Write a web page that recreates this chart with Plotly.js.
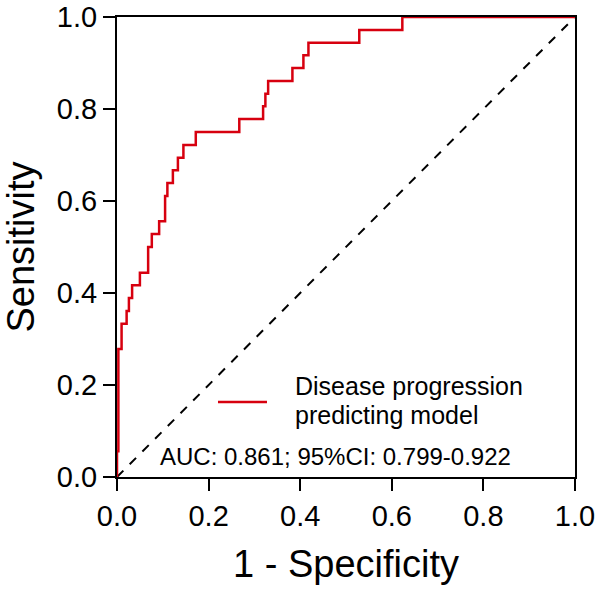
<!DOCTYPE html>
<html>
<head>
<meta charset="utf-8">
<script src="https://cdn.plot.ly/plotly-3.0.1.min.js"></script>
<style>html,body{margin:0;padding:0;background:#fff;}#chart{width:600px;height:591px;}</style>
</head>
<body>
<div id="chart"></div>
<script>
// ROC step points (1 - specificity, sensitivity)
const fpr = [0, 0, 0.003, 0.010, 0.021, 0.026, 0.033, 0.050, 0.068, 0.076, 0.092, 0.105, 0.110, 0.122, 0.133, 0.145, 0.172, 0.267, 0.319, 0.324, 0.330, 0.383, 0.407, 0.418, 0.529, 0.623, 1.0];
const tpr = [0, 0.056, 0.278, 0.333, 0.361, 0.389, 0.417, 0.444, 0.500, 0.528, 0.556, 0.611, 0.639, 0.667, 0.694, 0.722, 0.750, 0.778, 0.806, 0.833, 0.861, 0.889, 0.917, 0.944, 0.972, 1.0, 1.0];
const refX = [0, 1];
const refY = [0, 1];
const tickVals = [0, 0.2, 0.4, 0.6, 0.8, 1.0];
const tickText = ["0.0", "0.2", "0.4", "0.6", "0.8", "1.0"];
const seriesNameLines = ["Disease progression", "predicting model"];
const aucText = "AUC: 0.861; 95%CI: 0.799-0.922";

const FONT = "Liberation Sans, Arial, Helvetica, sans-serif";

const traces = [
  {x: refX, y: refY, mode: "lines", line: {color: "#000", width: 2, dash: "dash"}, showlegend: false, hoverinfo: "skip"},
  {x: fpr, y: tpr, mode: "lines", line: {color: "#d7000f", width: 2.5, shape: "hv"}, name: seriesNameLines.join(" "), showlegend: false}
];

const axisCommon = {
  range: [0, 1], tickvals: tickVals, ticktext: tickText,
  showgrid: false, zeroline: false,
  showline: true, linecolor: "#000", linewidth: 2, mirror: true,
  ticks: "outside", ticklen: 12, tickwidth: 2, tickcolor: "#000",
  tickfont: {family: FONT, size: 29, color: "#000"}, fixedrange: true
};

const layout = {
  width: 600, height: 591,
  margin: {l: 117, r: 25, t: 17, b: 114},
  paper_bgcolor: "#fff", plot_bgcolor: "#fff",
  font: {family: FONT, color: "#000"},
  xaxis: Object.assign({}, axisCommon, {title: {text: "1 - Specificity", font: {family: FONT, size: 38, color: "#000"}, standoff: 20}}),
  yaxis: Object.assign({}, axisCommon, {title: {text: "Sensitivity", font: {family: FONT, size: 38, color: "#000"}, standoff: 12}}),
  shapes: [
    {type: "line", xref: "paper", yref: "paper", x0: 0.2205, x1: 0.3275, y0: 0.163, y1: 0.163, line: {color: "#d7000f", width: 2.5}}
  ],
  annotations: [
    {xref: "paper", yref: "paper", x: 0.385, y: 0.197, xanchor: "left", yanchor: "middle", align: "left", showarrow: false,
     text: seriesNameLines[0], font: {family: FONT, size: 25, color: "#000"}},
    {xref: "paper", yref: "paper", x: 0.385, y: 0.135, xanchor: "left", yanchor: "middle", align: "left", showarrow: false,
     text: seriesNameLines[1], font: {family: FONT, size: 25, color: "#000"}},
    {xref: "paper", yref: "paper", x: 0.478, y: 0.045, xanchor: "center", yanchor: "middle", showarrow: false,
     text: aucText, font: {family: FONT, size: 24, color: "#000"}}
  ],
  showlegend: false
};

Plotly.newPlot("chart", traces, layout, {displayModeBar: false, staticPlot: true});
</script>
</body>
</html>
